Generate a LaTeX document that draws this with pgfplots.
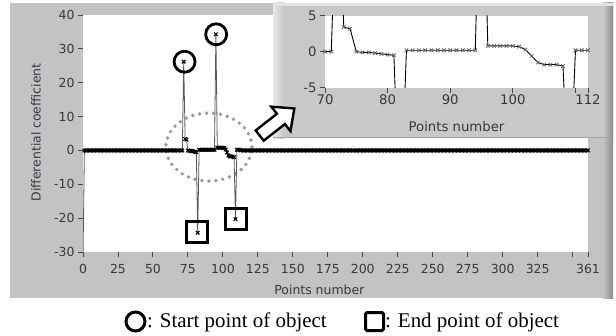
\documentclass[border=0pt]{standalone}
\usepackage{pgfplots}
\pgfplotsset{compat=1.18}
\usepackage{pgfplotstable}
\usepackage{fontspec}
\setmainfont{DejaVu Sans}
\newfontfamily\serif{Liberation Serif}
\definecolor{panel}{RGB}{195,195,195}
\definecolor{inpanel}{RGB}{200,200,200}
\definecolor{labc}{RGB}{55,55,68}
\definecolor{tickc}{RGB}{70,70,70}

\pgfplotstableread[row sep=\\]{
n v\\
0 -32\\
1 0\\ 2 0\\ 3 0\\ 4 0\\ 5 0\\ 6 0\\ 7 0\\ 8 0\\ 9 0\\ 10 0\\
11 0\\ 12 0\\ 13 0\\ 14 0\\ 15 0\\ 16 0\\ 17 0\\ 18 0\\ 19 0\\ 20 0\\
21 0\\ 22 0\\ 23 0\\ 24 0\\ 25 0\\ 26 0\\ 27 0\\ 28 0\\ 29 0\\ 30 0\\
31 0\\ 32 0\\ 33 0\\ 34 0\\ 35 0\\ 36 0\\ 37 0\\ 38 0\\ 39 0\\ 40 0\\
41 0\\ 42 0\\ 43 0\\ 44 0\\ 45 0\\ 46 0\\ 47 0\\ 48 0\\ 49 0\\ 50 0\\
51 0\\ 52 0\\ 53 0\\ 54 0\\ 55 0\\ 56 0\\ 57 0\\ 58 0\\ 59 0\\ 60 0\\
61 0\\ 62 0\\ 63 0\\ 64 0\\ 65 0\\ 66 0\\ 67 0\\ 68 0\\ 69 0\\ 70 0\\
71 0\\ 72 26.2\\ 73 3.4\\ 74 3.2\\ 75 0\\ 76 -0.1\\ 77 -0.1\\ 78 -0.2\\ 79 -0.3\\ 80 -0.4\\
81 -0.5\\ 82 -24.3\\ 83 0.2\\ 84 0.2\\ 85 0.2\\ 86 0.2\\ 87 0.2\\ 88 0.2\\ 89 0.2\\ 90 0.2\\
91 0.2\\ 92 0.2\\ 93 0.2\\ 94 0.2\\ 95 34.3\\ 96 0.8\\ 97 0.8\\ 98 0.8\\ 99 0.8\\ 100 0.8\\
101 0.7\\ 102 0.3\\ 103 -0.6\\ 104 -1.5\\ 105 -1.8\\ 106 -1.8\\ 107 -1.8\\ 108 -2.0\\ 109 -20.3\\ 110 0.2\\
111 0.2\\ 112 0.2\\ 113 0\\ 114 0\\ 115 0\\ 116 0\\ 117 0\\ 118 0\\ 119 0\\ 120 0\\
121 0\\ 122 0\\ 123 0\\ 124 0\\ 125 0\\ 126 0\\ 127 0\\ 128 0\\ 129 0\\ 130 0\\
131 0\\ 132 0\\ 133 0\\ 134 0\\ 135 0\\ 136 0\\ 137 0\\ 138 0\\ 139 0\\ 140 0\\
141 0\\ 142 0\\ 143 0\\ 144 0\\ 145 0\\ 146 0\\ 147 0\\ 148 0\\ 149 0\\ 150 0\\
151 0\\ 152 0\\ 153 0\\ 154 0\\ 155 0\\ 156 0\\ 157 0\\ 158 0\\ 159 0\\ 160 0\\
161 0\\ 162 0\\ 163 0\\ 164 0\\ 165 0\\ 166 0\\ 167 0\\ 168 0\\ 169 0\\ 170 0\\
171 0\\ 172 0\\ 173 0\\ 174 0\\ 175 0\\ 176 0\\ 177 0\\ 178 0\\ 179 0\\ 180 0\\
181 0\\ 182 0\\ 183 0\\ 184 0\\ 185 0\\ 186 0\\ 187 0\\ 188 0\\ 189 0\\ 190 0\\
191 0\\ 192 0\\ 193 0\\ 194 0\\ 195 0\\ 196 0\\ 197 0\\ 198 0\\ 199 0\\ 200 0\\
201 0\\ 202 0\\ 203 0\\ 204 0\\ 205 0\\ 206 0\\ 207 0\\ 208 0\\ 209 0\\ 210 0\\
211 0\\ 212 0\\ 213 0\\ 214 0\\ 215 0\\ 216 0\\ 217 0\\ 218 0\\ 219 0\\ 220 0\\
221 0\\ 222 0\\ 223 0\\ 224 0\\ 225 0\\ 226 0\\ 227 0\\ 228 0\\ 229 0\\ 230 0\\
231 0\\ 232 0\\ 233 0\\ 234 0\\ 235 0\\ 236 0\\ 237 0\\ 238 0\\ 239 0\\ 240 0\\
241 0\\ 242 0\\ 243 0\\ 244 0\\ 245 0\\ 246 0\\ 247 0\\ 248 0\\ 249 0\\ 250 0\\
251 0\\ 252 0\\ 253 0\\ 254 0\\ 255 0\\ 256 0\\ 257 0\\ 258 0\\ 259 0\\ 260 0\\
261 0\\ 262 0\\ 263 0\\ 264 0\\ 265 0\\ 266 0\\ 267 0\\ 268 0\\ 269 0\\ 270 0\\
271 0\\ 272 0\\ 273 0\\ 274 0\\ 275 0\\ 276 0\\ 277 0\\ 278 0\\ 279 0\\ 280 0\\
281 0\\ 282 0\\ 283 0\\ 284 0\\ 285 0\\ 286 0\\ 287 0\\ 288 0\\ 289 0\\ 290 0\\
291 0\\ 292 0\\ 293 0\\ 294 0\\ 295 0\\ 296 0\\ 297 0\\ 298 0\\ 299 0\\ 300 0\\
301 0\\ 302 0\\ 303 0\\ 304 0\\ 305 0\\ 306 0\\ 307 0\\ 308 0\\ 309 0\\ 310 0\\
311 0\\ 312 0\\ 313 0\\ 314 0\\ 315 0\\ 316 0\\ 317 0\\ 318 0\\ 319 0\\ 320 0\\
321 0\\ 322 0\\ 323 0\\ 324 0\\ 325 0\\ 326 0\\ 327 0\\ 328 0\\ 329 0\\ 330 0\\
331 0\\ 332 0\\ 333 0\\ 334 0\\ 335 0\\ 336 0\\ 337 0\\ 338 0\\ 339 0\\ 340 0\\
341 0\\ 342 0\\ 343 0\\ 344 0\\ 345 0\\ 346 0\\ 347 0\\ 348 0\\ 349 0\\ 350 0\\
351 0\\ 352 0\\ 353 0\\ 354 0\\ 355 0\\ 356 0\\ 357 0\\ 358 0\\ 359 0\\ 360 0\\
361 0\\
}\mydata

\begin{document}
\begin{tikzpicture}[x=1bp,y=1bp]
\path[use as bounding box, fill=white] (0,0) rectangle (616,335);
% main panel
\fill[panel] (10,37) rectangle (613,332);
\shade[left color=panel, right color=black!45] (603,37) rectangle (613,332);

\begin{axis}[
  at={(83bp,83bp)}, anchor=south west,
  width=505bp, height=237bp, scale only axis,
  xmin=0, xmax=361, ymin=-30, ymax=40,
  axis background/.style={fill=white},
  axis line style={draw=none},
  xtick pos=bottom, ytick pos=left,
  tick align=outside, major tick length=5bp,
  tick style={draw=tickc, line width=0.9bp},
  xtick={0,25,50,75,100,125,150,175,200,225,250,275,300,325,350,361},
  xticklabels={0,25,50,75,100,125,150,175,200,225,250,275,300,325,,361},
  ytick={-30,-20,-10,0,10,20,30,40},
  yticklabels={-30,-20,-10,0,10,20,30,40},
  tick label style={font=\fontsize{12.5}{14}\selectfont, text=labc},
  xticklabel style={yshift=-4bp},
  xlabel={Points number}, ylabel={Differential coefficient},
  label style={font=\fontsize{12.5}{14}\selectfont, text=labc},
  xlabel style={at={(axis description cs:0.468,-0.160)}, anchor=center},
  ylabel style={at={(axis description cs:-0.093,0.504)}, anchor=center},
]
\draw[black!40, line width=3.8bp, line cap=round, dash pattern=on 0bp off 7bp]
  (axis cs:90,1) ellipse [x radius=43bp, y radius=34bp];
\addplot[color=black!65, line width=0.8bp, mark=x, mark size=2.5bp,
  mark options={black, line width=1.1bp, solid}] table[x=n, y=v] {\mydata};
\addplot[only marks, mark=o, mark size=10.5bp, line width=2.8bp, black]
  coordinates {(72.6,26.2) (95.2,34.3)};
\addplot[only marks, mark=square, mark size=10.5bp, line width=2.8bp, black]
  coordinates {(81.6,-24.2) (109.4,-20.3)};
\end{axis}

% inset panel
\fill[inpanel] (273,197) rectangle (613,332);
\shade[left color=white!60!inpanel, right color=inpanel] (273,197) rectangle (284,332);
\shade[left color=inpanel, right color=black!45] (603,197) rectangle (613,332);
\fill[white!50!inpanel] (273,329) rectangle (613,332);
\draw[black!35, line width=1bp] (273,197.5) -- (613,197.5);

\begin{axis}[
  at={(325bp,247.3bp)}, anchor=south west,
  width=263bp, height=72bp, scale only axis,
  xmin=70, xmax=112, ymin=-5, ymax=5,
  axis background/.style={fill=white},
  axis line style={draw=none},
  xtick pos=bottom, ytick pos=left,
  tick align=outside, major tick length=5bp,
  tick style={draw=tickc, line width=0.9bp},
  xtick={70,80,90,100,110,112},
  xticklabels={70,80,90,100,,112},
  ytick={-5,0,5}, yticklabels={-5,0,5},
  tick label style={font=\fontsize{13.3}{15}\selectfont, text=labc},
  xticklabel style={yshift=2bp},
  xlabel={Points number},
  label style={font=\fontsize{13.3}{15}\selectfont, text=labc},
  xlabel style={at={(axis description cs:0.5,-0.546)}, anchor=center},
]
\addplot[color=black, line width=0.9bp, mark=x, mark size=2.5bp,
  mark options={black!60, line width=0.8bp, solid},
  restrict x to domain=68:114] table[x=n, y=v] {\mydata};
\end{axis}

% arrow
\begin{scope}[shift={(277,213)}, rotate=38]
\draw[line width=2.4bp, fill=white, line join=miter]
  (-22,-6.5) -- (5,-6.5) -- (5,-15.5) -- (22,0) -- (5,15.5) -- (5,6.5) -- (-22,6.5) -- cycle;
\end{scope}

% legend
\draw[line width=3bp] (135.5,13.5) circle [radius=9.5bp];
\node[anchor=base west, inner sep=0pt, font=\serif\fontsize{21}{24}\selectfont] at (147,8) {: Start point of object};
\draw[line width=3bp, rounded corners=1.5bp] (365.5,4.5) rectangle (383.5,22.5);
\node[anchor=base west, inner sep=0pt, font=\serif\fontsize{21}{24}\selectfont] at (385,8) {: End point of object};
\end{tikzpicture}
\end{document}
